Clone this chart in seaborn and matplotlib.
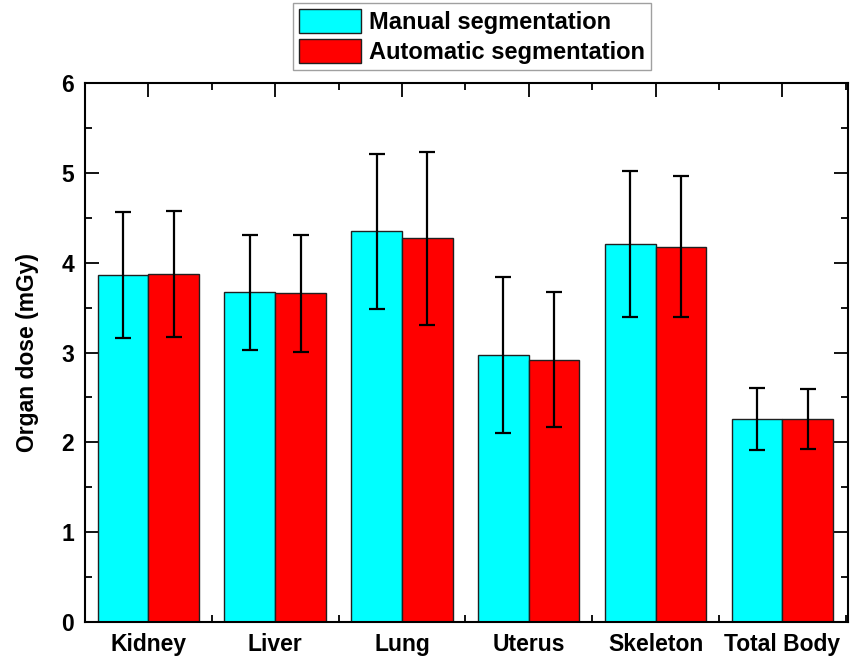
import numpy as np
import pandas as pd
import matplotlib
matplotlib.use("Agg")
import matplotlib.pyplot as plt
from matplotlib.ticker import MultipleLocator
import seaborn as sns

# values
organs = ["Kidney", "Liver", "Lung", "Uterus", "Skeleton", "Total Body"]
manual_dose = [3.86, 3.67, 4.35, 2.97, 4.21, 2.26]
manual_err = [0.70, 0.64, 0.86, 0.87, 0.81, 0.34]
auto_dose = [3.87, 3.66, 4.27, 2.92, 4.18, 2.26]
auto_err = [0.70, 0.65, 0.96, 0.75, 0.79, 0.33]
methods = ["Manual segmentation", "Automatic segmentation"]
colors = ["#00FFFF", "#FF0000"]

df = pd.DataFrame({
    "Organ": organs * 2,
    "Dose": manual_dose + auto_dose,
    "Err": manual_err + auto_err,
    "Method": [methods[0]] * len(organs) + [methods[1]] * len(organs),
})

sns.set_style("ticks")
plt.rcParams['font.family'] = ['Liberation Sans', 'DejaVu Sans']
plt.rcParams['font.weight'] = 'bold'
plt.rcParams['text.color'] = 'black'
plt.rcParams['axes.labelcolor'] = 'black'
plt.rcParams['xtick.color'] = 'black'
plt.rcParams['ytick.color'] = 'black'

fig = plt.figure(figsize=(8.62, 6.59), dpi=100)
ax = fig.add_axes([0.0986, 0.0561, 0.8854, 0.8179])

sns.barplot(data=df, x="Organ", y="Dose", hue="Method", order=organs,
            hue_order=methods, palette=colors, width=0.8, errorbar=None,
            edgecolor="#202020", linewidth=1.0, ax=ax, saturation=1)

# error bars on top of each bar
errs = [manual_err, auto_err]
for cont, e in zip(ax.containers, errs):
    xs = [p.get_x() + p.get_width() / 2 for p in cont.patches]
    ys = [p.get_height() for p in cont.patches]
    ax.errorbar(xs, ys, yerr=e, fmt="none", ecolor="black", elinewidth=1.6,
                capsize=5.8, capthick=1.6, zorder=5)

ax.set_xlim(-0.5, 5.52)
ax.set_ylim(0, 6)
ax.yaxis.set_major_locator(MultipleLocator(1))
ax.yaxis.set_minor_locator(MultipleLocator(0.5))
ax.xaxis.set_minor_locator(MultipleLocator(0.5))
ax.tick_params(which="major", direction="in", length=10, width=1.3,
               top=True, right=True, labelsize=16.5, pad=8)
ax.tick_params(which="minor", direction="in", length=5, width=1.3,
               top=True, right=True)
for s in ax.spines.values():
    s.set_visible(True)
    s.set_linewidth(1.5)
    s.set_color("black")

ax.set_xlabel("")
ax.set_ylabel("Organ dose (mGy)", fontsize=16.5, fontweight="bold",
              labelpad=16, color="black")
for lbl in ax.get_xticklabels() + ax.get_yticklabels():
    lbl.set_fontweight("bold")

leg = ax.legend(loc="lower center", bbox_to_anchor=(0.507, 1.0), ncol=1,
                frameon=True, fancybox=False, edgecolor="#888888",
                prop={"weight": "bold", "size": 17}, handlelength=2.6,
                handleheight=1.2, handletextpad=0.35, borderpad=0.25,
                labelspacing=0.2, borderaxespad=0.55)
leg.get_frame().set_linewidth(1.0)
for t in leg.get_texts():
    t.set_color("black")

fig.savefig("out.png", dpi=100)
